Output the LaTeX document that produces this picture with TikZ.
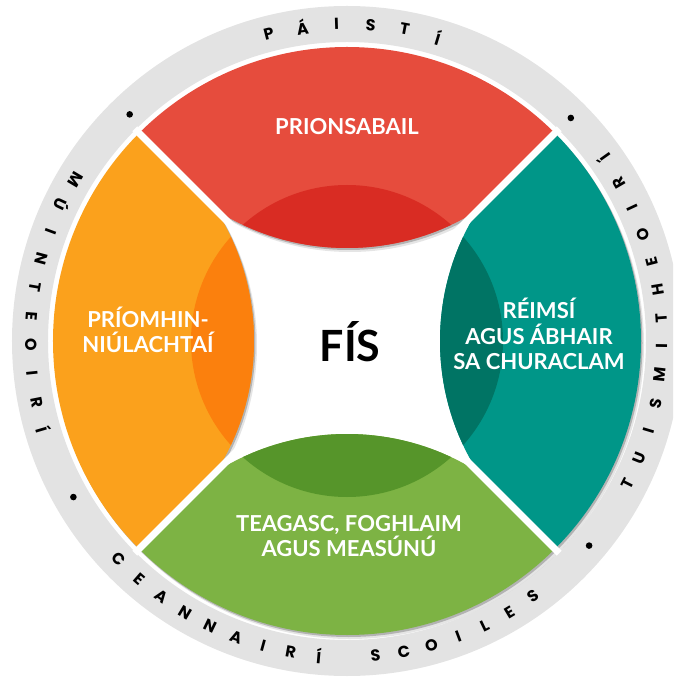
\documentclass[tikz,border=0pt]{standalone}
\usepackage{fontspec}
\setmainfont{Lato}
\newfontfamily\ringfont{Poppins}
\usepackage{xcolor}

\definecolor{ringgray}{HTML}{E3E3E3}
\definecolor{petalred}{HTML}{E64C3D}
\definecolor{petalreddark}{HTML}{D92C23}
\definecolor{petalorange}{HTML}{FBA11C}
\definecolor{petalorangedark}{HTML}{FB800D}
\definecolor{petalteal}{HTML}{009688}
\definecolor{petaltealdark}{HTML}{007464}
\definecolor{petalgreen}{HTML}{7DB344}
\definecolor{petalgreendark}{HTML}{56952A}

\tikzset{
  petaltext/.style = {text=white, align=center, inner sep=0pt,
                      font=\fontsize{22}{25.5}\selectfont\bfseries},
  ringletter/.style = {inner sep=0pt, font=\ringfont\fontsize{16}{16}\selectfont\bfseries},
  gapline/.style = {white, line width=7pt},
  ringdot/.style = {black}
}

\begin{document}
\begin{tikzpicture}[x=1pt, y=1pt]
	\useasboundingbox (-347,-336) rectangle (326,341);
	\clip (-347,-336) rectangle (326,341);

	\fill[ringgray, even odd rule] (0,0) circle (335pt) (0,0) circle (299pt);

	\foreach \sx/\sy/\op in {3/-4/0.10, 1.5/-2/0.22} {
		\foreach \ang in {0,90,180,270} {
			\begin{scope}[shift={(\sx,\sy)}]
				\clip (0,0) -- (\ang-45:420pt) -- (\ang+45:420pt) -- cycle;
				\clip (0,0) circle (294pt);
				\fill[black, opacity=\op] (\ang:338.5pt) circle (245.5pt);
			\end{scope}
		}
	}

	\begin{scope}
		\clip (0,0) -- (45:420pt) -- (135:420pt) -- cycle;
		\clip (0,0) circle (294pt);
		\fill[petalred] (0,338.5) circle (245.5pt);
		\clip (0,338.5) circle (245.5pt);
		\fill[petalreddark] (0,0) circle (156pt);
	\end{scope}
	\begin{scope}
		\clip (0,0) -- (135:420pt) -- (225:420pt) -- cycle;
		\clip (0,0) circle (294pt);
		\fill[petalorange] (-338.5,0) circle (245.5pt);
		\clip (-338.5,0) circle (245.5pt);
		\fill[petalorangedark] (0,0) circle (156pt);
	\end{scope}
	\begin{scope}
		\clip (0,0) -- (-45:420pt) -- (45:420pt) -- cycle;
		\clip (0,0) circle (294pt);
		\fill[petalteal] (338.5,0) circle (245.5pt);
		\clip (338.5,0) circle (245.5pt);
		\fill[petaltealdark] (0,0) circle (156pt);
	\end{scope}
	\begin{scope}
		\clip (0,0) -- (225:420pt) -- (315:420pt) -- cycle;
		\clip (0,0) circle (294pt);
		\fill[petalgreen] (0,-338.5) circle (245.5pt);
		\clip (0,-338.5) circle (245.5pt);
		\fill[petalgreendark] (0,0) circle (156pt);
	\end{scope}

	\draw[gapline] (0,0) -- (45:300pt);
	\draw[gapline] (0,0) -- (135:300pt);
	\draw[gapline] (0,0) -- (225:300pt);
	\draw[gapline] (0,0) -- (315:300pt);

	\node[petaltext] (principles) at (0,214) {PRIONSABAIL};
	\node[petaltext] (priorities) at (-199,11) {PRÍOMHIN-\\NIÚLACHTAÍ};
	\node[petaltext] (curriculum) at (192,7) {RÉIMSÍ\\AGUS ÁBHAIR\\SA CHURACLAM};
	\node[petaltext] (teaching) at (2,-195) {TEAGASC, FOGHLAIM\\AGUS MEASÚNÚ};
	\node[font=\fontsize{43}{43}\selectfont\bfseries] (vision) at (3,-1) {FÍS};

	\fill[ringdot] (133.8:314pt) circle (3.3pt);
	\fill[ringdot] (44.9:316pt) circle (3.3pt);
	\fill[ringdot] (209.7:315pt) circle (3.3pt);
	\fill[ringdot] (319.8:317pt) circle (3.3pt);

	\foreach \ch [count=\i from 0] in {P,Á,I,S,T,Í}
		\node[ringletter, rotate={104.3-6.2*\i-90}] (children-\i) at ({104.3-6.2*\i}:317pt) {\ch};
	\foreach \ch [count=\i from 0] in {T,U,I,S,M,I,T,H,E,O,I,R,Í}
		\node[ringletter, rotate={-27+5.2*\i+90}] (parents-\i) at ({-27+5.2*\i}:315pt) {\ch};
	\foreach \ch [count=\i from 0] in {M,Ú,I,N,T,E,O,I,R,Í}
		\node[ringletter, rotate={149.3+5.23*\i+90}] (teachers-\i) at ({149.3+5.23*\i}:316pt) {\ch};
	\foreach \ch [count=\i from 0] in {C,E,A,N,N,A,I,R,Í,{},S,C,O,I,L,E,S}
		\node[ringletter, rotate={223.7+5.15*\i+90}] (leaders-\i) at ({223.7+5.15*\i}:316pt) {\ch};
\end{tikzpicture}
\end{document}
